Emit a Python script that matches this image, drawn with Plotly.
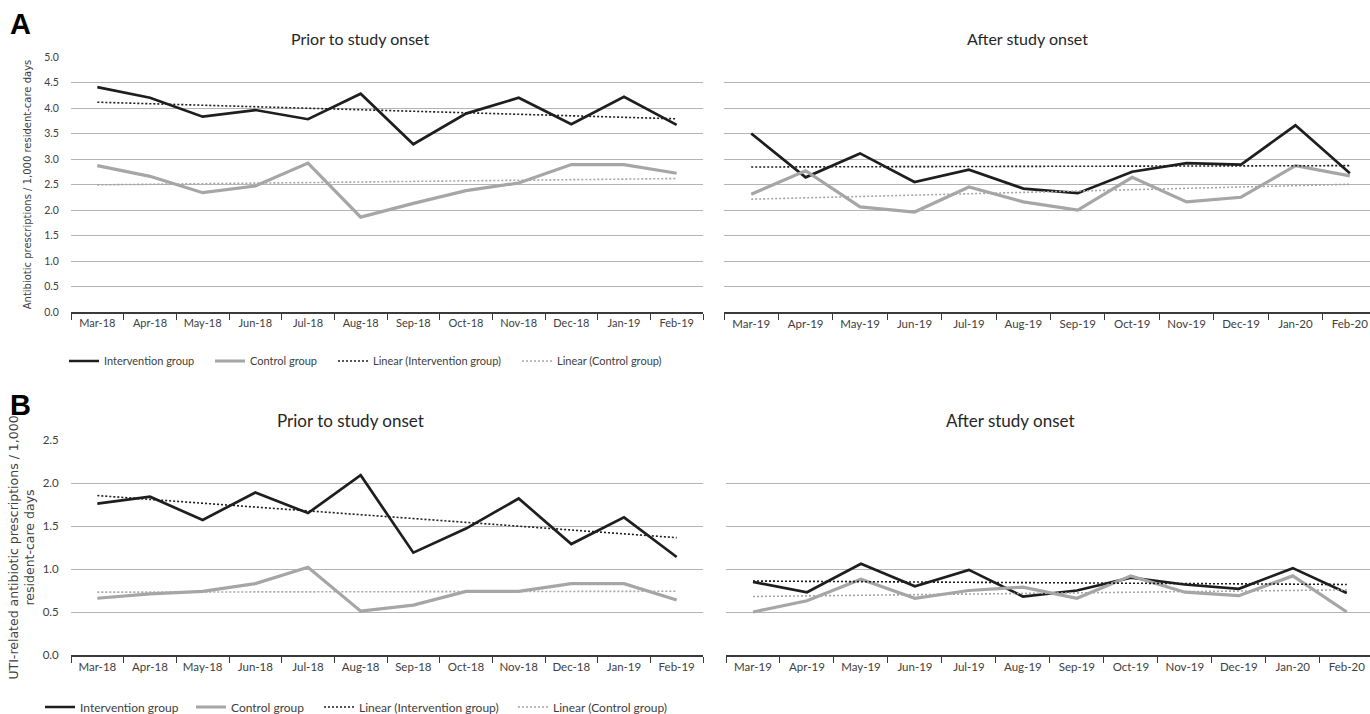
import numpy as np
import plotly.graph_objects as go

# ---------------- data ----------------
months_pre = ["Mar-18", "Apr-18", "May-18", "Jun-18", "Jul-18", "Aug-18",
              "Sep-18", "Oct-18", "Nov-18", "Dec-18", "Jan-19", "Feb-19"]
months_post = ["Mar-19", "Apr-19", "May-19", "Jun-19", "Jul-19", "Aug-19",
               "Sep-19", "Oct-19", "Nov-19", "Dec-19", "Jan-20", "Feb-20"]

# Panel A: antibiotic prescriptions / 1,000 resident-care days
a_pre_intervention = [4.41, 4.20, 3.83, 3.96, 3.78, 4.28, 3.29, 3.89, 4.20, 3.68, 4.22, 3.67]
a_pre_control = [2.87, 2.66, 2.34, 2.47, 2.92, 1.86, 2.13, 2.38, 2.53, 2.89, 2.89, 2.72]
a_post_intervention = [3.50, 2.64, 3.11, 2.55, 2.79, 2.42, 2.33, 2.75, 2.92, 2.89, 3.66, 2.72]
a_post_control = [2.31, 2.77, 2.06, 1.96, 2.45, 2.16, 2.00, 2.64, 2.16, 2.25, 2.87, 2.67]

# Panel B: UTI-related antibiotic prescriptions / 1,000 resident-care days
b_pre_intervention = [1.76, 1.84, 1.57, 1.89, 1.65, 2.09, 1.19, 1.47, 1.82, 1.29, 1.60, 1.14]
b_pre_control = [0.66, 0.71, 0.74, 0.83, 1.02, 0.51, 0.58, 0.74, 0.74, 0.83, 0.83, 0.64]
b_post_intervention = [0.85, 0.73, 1.06, 0.80, 0.99, 0.68, 0.75, 0.90, 0.82, 0.77, 1.01, 0.72]
b_post_control = [0.50, 0.63, 0.88, 0.66, 0.75, 0.79, 0.66, 0.92, 0.73, 0.69, 0.92, 0.50]

a_yticks = [0.0, 0.5, 1.0, 1.5, 2.0, 2.5, 3.0, 3.5, 4.0, 4.5, 5.0]
b_yticks = [0.0, 0.5, 1.0, 1.5, 2.0, 2.5]

series_names = ["Intervention group", "Control group",
                "Linear (Intervention group)", "Linear (Control group)"]

# ---------------- styling ----------------
W, H = 1370, 714


def px(x):
    return x / W


def py(y):
    return 1 - y / H


BLACK = "#1e1e1e"
GREY = "#a6a6a6"
GRID = "#b4b4b4"
AXIS = "#3a3a3a"
TXT = "#404040"
NARROW = "Lato, Open Sans, sans-serif"
WIDE = "DejaVu Sans, Verdana, sans-serif"
DOTS = "2px,2px"


def linear_trend(values):
    idx = np.arange(len(values))
    slope, intercept = np.polyfit(idx, values, 1)
    return (slope * idx + intercept).tolist()


fig = go.Figure()


def add_panel(months, inter, ctrl, xa, ya, legends):
    styles = [dict(color=BLACK, width=2.7), dict(color=GREY, width=3.2),
              dict(color=BLACK, width=1.6, dash=DOTS), dict(color=GREY, width=1.6, dash=DOTS)]
    values = [inter, ctrl, linear_trend(inter), linear_trend(ctrl)]
    for i in range(4):
        fig.add_trace(go.Scatter(
            x=months, y=values[i], name=series_names[i], xaxis=xa, yaxis=ya,
            mode="lines", hoverinfo="skip", line=styles[i],
            legend=legends[i] if legends else "legend", showlegend=bool(legends)))


legA = ["legend", "legend2", "legend3", "legend4"]
legB = ["legend5", "legend6", "legend7", "legend8"]
add_panel(months_pre, a_pre_intervention, a_pre_control, "x", "y", legA)
add_panel(months_post, a_post_intervention, a_post_control, "x2", "y2", None)
add_panel(months_pre, b_pre_intervention, b_pre_control, "x3", "y3", legB)
add_panel(months_post, b_post_intervention, b_post_control, "x4", "y4", None)


def xax(dom, anchor, rng, size):
    return dict(domain=dom, anchor=anchor, type="category", range=rng,
                showline=True, linecolor=AXIS, linewidth=1.5,
                ticks="outside", tickson="boundaries", ticklen=6,
                tickcolor=AXIS, tickwidth=1.2, showgrid=False, zeroline=False,
                tickfont=dict(family=NARROW, size=size, color=TXT), fixedrange=True)


def yax(dom, anchor, rng, ticks, show_labels, title=None, size=11, tsize=9, standoff=12):
    d = dict(domain=dom, anchor=anchor, range=rng, tickvals=ticks,
             ticktext=[f"{v:.1f}" for v in ticks], showticklabels=show_labels,
             showgrid=True, gridcolor=GRID, gridwidth=1, zeroline=False,
             showline=False, ticks="outside" if show_labels else "", ticklen=9,
             tickcolor="rgba(0,0,0,0)",
             tickfont=dict(family=NARROW, size=size, color=TXT),
             fixedrange=True, automargin=False)
    if title:
        d["title"] = dict(text=title, font=dict(family=WIDE, size=tsize, color=TXT),
                          standoff=standoff)
    return d


xa_left = [px(71), px(703)]
a_dom = [py(312), py(57)]
b_dom = [py(655), py(440)]

layout = dict(
    width=W, height=H,
    margin=dict(l=0, r=0, t=0, b=0, pad=0, autoexpand=False),
    paper_bgcolor="white", plot_bgcolor="white",
    xaxis=xax(xa_left, "y", [-0.5, 11.5], 11),
    yaxis=yax(a_dom, "x", [0, 5], a_yticks, True,
              "Antibiotic prescriptions / 1,000 resident-care days", 10.5, 10, 10),
    xaxis2=xax([px(724), 1.0], "y2", [-0.5, 11.37], 11.5),
    yaxis2=yax(a_dom, "x2", [0, 5], a_yticks, False),
    xaxis3=xax(xa_left, "y3", [-0.5, 11.5], 11.5),
    yaxis3=yax(b_dom, "x3", [0, 2.5], b_yticks, True,
               "UTI-related antibiotic prescriptions / 1,000<br>resident-care days", 11.5, 12.5, 5),
    xaxis4=xax([px(726), 1.0], "y4", [-0.5, 11.43], 11.5),
    yaxis4=yax(b_dom, "x4", [0, 2.5], b_yticks, False),
    showlegend=True,
)

# one legend per entry so each entry sits where it does in the reference
legA_x = [69, 215, 338, 522]
legB_x = [45, 196, 324, 518]
for names, xs, yc, fs in [(legA, legA_x, 361, 11), (legB, legB_x, 707, 12)]:
    for name, x0 in zip(names, xs):
        layout[name] = dict(orientation="h", x=px(x0 - 5), y=py(yc), xanchor="left",
                            yanchor="middle", font=dict(family=NARROW, size=fs, color=TXT),
                            bgcolor="rgba(0,0,0,0)", borderwidth=0, itemwidth=30)
fig.update_layout(**layout)

annotations = [
    dict(text="<b>A</b>", x=px(8), y=py(24), font=dict(family="Liberation Sans, Arial", size=29, color="black")),
    dict(text="<b>B</b>", x=px(8), y=py(405), font=dict(family="Liberation Sans, Arial", size=29, color="black")),
    dict(text="Prior to study onset", x=px(360), y=py(38), xanchor="center",
         font=dict(family=NARROW, size=16, color="#262626")),
    dict(text="After study onset", x=px(1027), y=py(38), xanchor="center",
         font=dict(family=NARROW, size=16, color="#262626")),
    dict(text="Prior to study onset", x=px(350), y=py(420), xanchor="center",
         font=dict(family=NARROW, size=17, color="#262626")),
    dict(text="After study onset", x=px(1010), y=py(420), xanchor="center",
         font=dict(family=NARROW, size=17, color="#262626")),
]
for a in annotations:
    a.setdefault("xanchor", "left")
    a.update(xref="paper", yref="paper", yanchor="middle", showarrow=False)
fig.update_layout(annotations=annotations)

# remove the default 8px page margin so the 1370x714 figure fills the window
fig.write_html("out.html", config={"displayModeBar": False},
               post_script="document.body.style.margin='0';"
                           "document.body.style.overflow='hidden';")
